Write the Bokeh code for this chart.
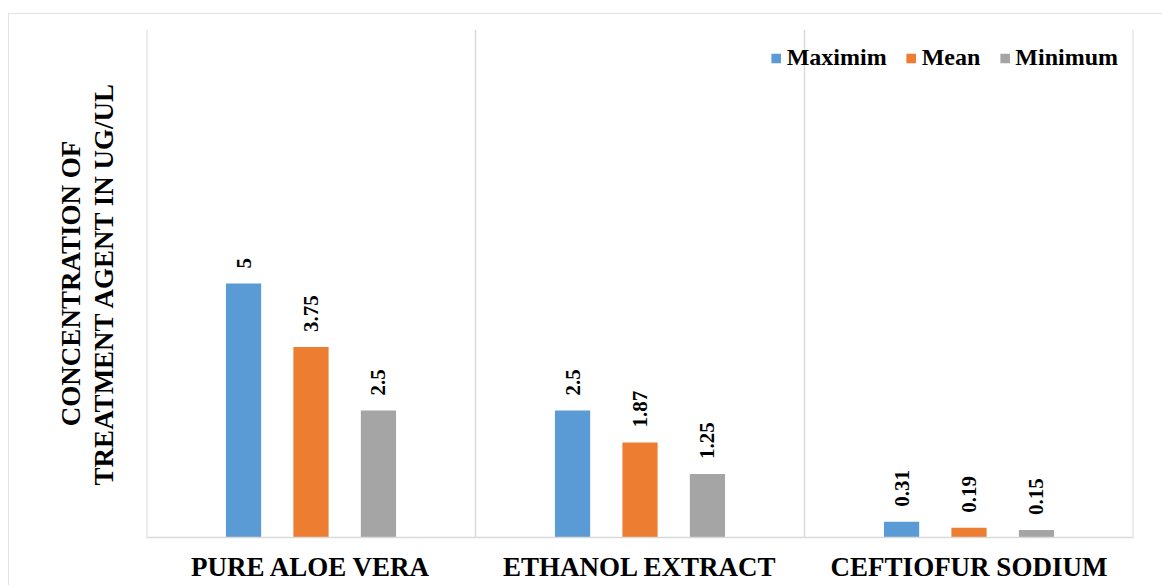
from math import pi
from bokeh.plotting import figure
from bokeh.models import ColumnDataSource, FixedTicker, Span
from bokeh.core.properties import value
from bokeh.embed import file_html
from bokeh.resources import INLINE

categories = ["PURE ALOE VERA", "ETHANOL EXTRACT", "CEFTIOFUR SODIUM"]
series_names = ["Maximim", "Mean", "Minimum"]
maximum = [5, 2.5, 0.31]
mean = [3.75, 1.87, 0.19]
minimum = [2.5, 1.25, 0.15]
colors = ["#5B9BD5", "#ED7D31", "#A5A5A5"]
y_title = "CONCENTRATION OF\nTREATMENT AGENT IN UG/UL"

FONT = value("Liberation Serif")
GRID = "#d9d9d9"

p = figure(width=1154, height=572, x_range=(0, 3), y_range=(0, 10),
           output_backend="svg", toolbar_location=None,
           min_border_left=138, min_border_right=29,
           min_border_top=16, min_border_bottom=48)
p.margin = (13, 0, 0, 8)
p.styles = {"outline": "2px solid #d9d9d9", "outline-offset": "-2px"}
p.outline_line_color = None
p.background_fill_color = "white"

offsets = [-0.205, 0.0, 0.205]
bar_w = 0.107
for j, (name, vals, col) in enumerate(zip(series_names, [maximum, mean, minimum], colors)):
    src = ColumnDataSource(dict(
        x=[i + 0.5 + offsets[j] for i in range(len(categories))],
        top=vals,
        label=[f"{v:g}" for v in vals],
    ))
    p.vbar(x="x", top="top", width=bar_w, source=src, fill_color=col,
           line_color=None, legend_label=name)
    p.text(x="x", y="top", text="label", source=src, angle=pi / 2,
           text_align="left", text_baseline="middle", y_offset=-15,
           text_font=FONT, text_font_style="bold", text_font_size="21px",
           text_color="black")

# x axis
p.xaxis.ticker = FixedTicker(ticks=[i + 0.5 for i in range(len(categories))])
p.xaxis.major_label_overrides = {i + 0.5: c for i, c in enumerate(categories)}
p.xaxis.major_tick_line_color = None
p.xaxis.minor_tick_line_color = None
p.xaxis.axis_line_color = GRID
p.xaxis.axis_line_width = 1.5
p.xaxis.major_label_text_font = "Liberation Serif"
p.xaxis.major_label_text_font_style = "bold"
p.xaxis.major_label_text_font_size = "27px"
p.xaxis.major_label_text_color = "black"
p.xaxis.major_label_standoff = 8

# y axis (hidden ticks)
p.yaxis.ticker = FixedTicker(ticks=[])
p.yaxis.axis_line_color = None
p.yaxis.major_tick_line_color = None
p.yaxis.minor_tick_line_color = None
p.yaxis.axis_label = y_title
p.yaxis.axis_label_text_font = "Liberation Serif"
p.yaxis.axis_label_text_font_style = "bold"
p.yaxis.axis_label_text_font_size = "27px"
p.yaxis.axis_label_text_color = "black"
p.yaxis.axis_label_text_line_height = 1.1
p.yaxis.axis_label_standoff = 28

# grids: category boundaries
p.xgrid.ticker = FixedTicker(ticks=[1, 2])
p.xgrid.grid_line_color = GRID
p.xgrid.grid_line_width = 1.5
p.ygrid.grid_line_color = None
for loc in (0, 3):
    p.add_layout(Span(location=loc, dimension="height", line_color=GRID, line_width=2))

# legend
p.legend.location = "top_right"
p.legend.orientation = "horizontal"
p.legend.background_fill_alpha = 0
p.legend.border_line_color = None
p.legend.label_text_font = "Liberation Serif"
p.legend.label_text_font_style = "bold"
p.legend.label_text_font_size = "24px"
p.legend.label_text_color = "black"
p.legend.glyph_width = 12
p.legend.glyph_height = 12
p.legend.label_standoff = 5
p.legend.spacing = 18
p.legend.margin = 15
p.legend.padding = 4

open("out.html", "w").write(file_html(p, INLINE))
